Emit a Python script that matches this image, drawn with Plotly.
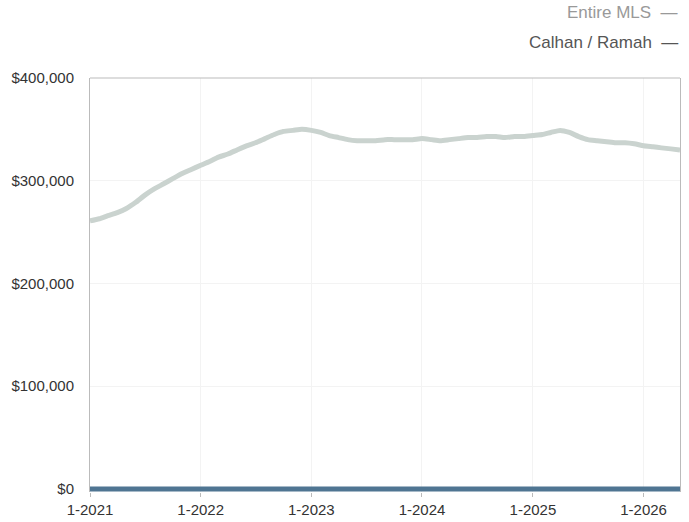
import plotly.graph_objects as go
import pandas as pd

months = pd.date_range("2021-01-01", "2026-05-01", freq="MS").strftime("%Y-%m-%d").tolist()

entire_mls = [
    261, 263, 266, 269, 273, 279, 286, 292, 297, 302, 307, 311,
    315, 319, 323, 326, 330, 334, 337, 341, 345, 348, 349, 350,
    349, 347, 344, 342, 340, 339, 339, 339, 340, 340, 340, 340,
    341, 340, 339, 340, 341, 342, 342, 343, 343, 342, 343, 343,
    344, 345, 347, 349, 347, 343, 340, 339, 338, 337, 337, 336,
    334, 333, 332, 331, 330,
]
entire_mls = [v * 1000 for v in entire_mls]
calhan_ramah = [0] * len(months)

y_ticks = [0, 100000, 200000, 300000, 400000]
y_tick_labels = ["$0", "$100,000", "$200,000", "$300,000", "$400,000"]
x_ticks = ["2021-01-01", "2022-01-01", "2023-01-01", "2024-01-01", "2025-01-01", "2026-01-01"]
x_tick_labels = ["1-2021", "1-2022", "1-2023", "1-2024", "1-2025", "1-2026"]

font = "Liberation Sans, Arial, sans-serif"

fig = go.Figure()
fig.add_trace(go.Scatter(x=months, y=entire_mls, mode="lines", name="Entire MLS",
                         line=dict(color="#cad3cf", width=5, shape="spline", smoothing=0.6)))
fig.add_trace(go.Scatter(x=months, y=calhan_ramah, mode="lines", name="Calhan / Ramah",
                         line=dict(color="#4f7592", width=5), cliponaxis=False))

fig.update_layout(
    width=689, height=522,
    margin=dict(l=90, r=9, t=78, b=30),
    paper_bgcolor="white", plot_bgcolor="white",
    showlegend=False,
    font=dict(family=font, size=15, color="#333333"),
    xaxis=dict(
        range=["2021-01-01", "2026-05-01"],
        tickvals=x_ticks, ticktext=x_tick_labels,
        showgrid=True, gridcolor="#f3f3f3", gridwidth=1,
        showline=False, zeroline=False, automargin=False,
        ticks="outside", ticklen=4, tickcolor="#bbbbbb",
        tickfont=dict(size=15, color="#333333"),
    ),
    yaxis=dict(
        range=[-3000, 400000],
        tickvals=y_ticks, ticktext=y_tick_labels,
        showgrid=True, gridcolor="#f3f3f3", gridwidth=1,
        showline=True, linecolor="#bbbbbb", linewidth=1, mirror=True,
        zeroline=False, ticks="", ticklabelstandoff=12, automargin=False,
        tickfont=dict(size=15, color="#333333"),
    ),
    shapes=[dict(type="line", xref="paper", yref="paper", x0=0, x1=1, y0=1, y1=1,
                 line=dict(color="#bbbbbb", width=1))],
    annotations=[
        dict(text="Entire MLS  \u2014", xref="paper", yref="paper", x=1.0, y=1.0,
             xanchor="right", yanchor="middle", showarrow=False,
             xshift=0, yshift=66,
             font=dict(family=font, size=17, color="#999999")),
        dict(text="Calhan / Ramah  \u2014", xref="paper", yref="paper", x=1.0, y=1.0,
             xanchor="right", yanchor="middle", showarrow=False,
             xshift=0, yshift=36,
             font=dict(family=font, size=17, color="#555555")),
    ],
)

fig.write_html("out.html", config={"displayModeBar": False},
               post_script="document.body.style.margin='0';document.body.style.overflow='hidden';")
